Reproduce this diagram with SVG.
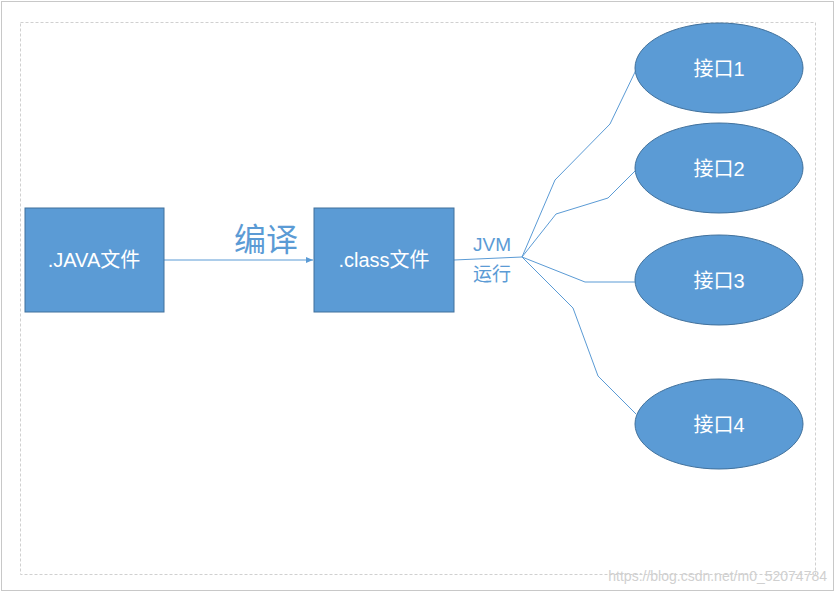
<svg xmlns="http://www.w3.org/2000/svg" width="836" height="593" viewBox="0 0 836 593">
<defs>
<style>
.box{fill:#5b9bd5;stroke:#41719c;stroke-width:1}
.t{fill:#fff;font-family:"Liberation Sans","Noto Sans CJK SC",sans-serif;font-size:20px;text-anchor:middle;dominant-baseline:central}
.lbl{fill:#5b9bd5;font-family:"Liberation Sans","Noto Sans CJK SC",sans-serif;text-anchor:middle;dominant-baseline:central}
.c{fill:none;stroke:#5b9bd5;stroke-width:1}
</style>
<marker id="ah" markerWidth="8" markerHeight="8" refX="7" refY="4" orient="auto" markerUnits="userSpaceOnUse"><path d="M0,1 L7,4 L0,7 Z" fill="#5b9bd5"/></marker>
</defs>
<rect x="0" y="0" width="836" height="593" fill="#fff"/>
<rect x="1.5" y="1.5" width="832" height="589" fill="none" stroke="#c8c8c8"/>
<rect x="20.5" y="22.5" width="795" height="552" fill="none" stroke="#d0d0d0" stroke-dasharray="3,2"/>
<g id="connectors">
<path class="c" d="M164,260 L313,260" marker-end="url(#ah)"/>
<path class="c" d="M454,260 L522,257"/>
<path class="c" d="M522,257 L555,180 L610,124 L636,70"/>
<path class="c" d="M522,257 L556,214 L608,198 L636,170"/>
<path class="c" d="M522,257 L585,282 L636,282"/>
<path class="c" d="M522,257 L573,308 L598,376 L636,414"/>
</g>
<g id="java"><rect class="box" x="25" y="208" width="139" height="104"/><text class="t" x="94" y="260">.JAVA文件</text></g>
<g id="class"><rect class="box" x="314" y="208" width="140" height="104"/><text class="t" x="384" y="260">.class文件</text></g>
<g id="lbl1"><text class="lbl" x="266" y="240" font-size="32">编译</text></g>
<g id="lbl2"><text class="lbl" x="492" y="244" font-size="19">JVM</text><text class="lbl" x="492" y="274" font-size="19">运行</text></g>
<g id="i1"><ellipse class="box" cx="719" cy="68" rx="84" ry="45"/><text class="t" x="719" y="69" font-size="24">接口1</text></g>
<g id="i2"><ellipse class="box" cx="719" cy="168" rx="84" ry="45"/><text class="t" x="719" y="169" font-size="24">接口2</text></g>
<g id="i3"><ellipse class="box" cx="719" cy="280" rx="84" ry="45"/><text class="t" x="719" y="281" font-size="24">接口3</text></g>
<g id="i4"><ellipse class="box" cx="719" cy="424" rx="84" ry="45"/><text class="t" x="719" y="425" font-size="24">接口4</text></g>
<text x="827" y="576" font-family="Liberation Sans,sans-serif" font-size="14" fill="#d0d0d0" text-anchor="end" dominant-baseline="central">https://blog.csdn.net/m0_52074784</text>
</svg>
